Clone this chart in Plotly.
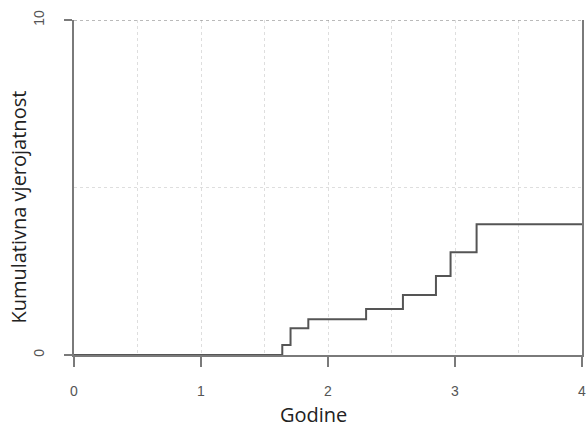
import plotly.graph_objects as go

# Step data (time in years, cumulative probability)
godine = [0, 1.64, 1.705, 1.845, 2.30, 2.59, 2.85, 2.965, 3.17, 4]
kumulativna = [0, 0.030, 0.080, 0.107, 0.137, 0.179, 0.236, 0.307, 0.390, 0.390]

x_tickvals = [0, 1, 2, 3, 4]
x_ticktext = ["0", "1", "2", "3", "4"]
y_tickvals = [0, 1]
y_ticktext = ["0", "10"]

x_title = "Godine"
y_title = "Kumulativna vjerojatnost"

fig = go.Figure()
fig.add_trace(go.Scatter(
    x=godine, y=kumulativna, mode="lines",
    line=dict(shape="hv", color="#555555", width=2),
    showlegend=False, hoverinfo="skip",
))

# dotted reference line at the top (y = 1)
fig.add_shape(type="line", xref="x", yref="y", x0=0, x1=4, y0=1, y1=1,
              line=dict(color="#777777", width=1.2, dash="dot"), layer="above")

grid_col = "#dedede"
tick_font = dict(family="Arial, Liberation Sans, sans-serif", size=14, color="#555555")
title_font = dict(family="Open Sans, sans-serif", size=20, color="#222222")

fig.add_annotation(text=x_title, xref="paper", yref="paper", x=0.472, y=0,
                   yshift=-59, xanchor="center", yanchor="middle",
                   showarrow=False, font=title_font)
fig.add_annotation(text=y_title, xref="paper", yref="paper", x=0, y=0.44,
                   xshift=-55, xanchor="center", yanchor="middle", textangle=-90,
                   showarrow=False, font=title_font)

fig.update_layout(
    width=588, height=430,
    margin=dict(l=74, r=6, t=20, b=75),
    paper_bgcolor="white", plot_bgcolor="white",
    font=dict(family="Open Sans, sans-serif", color="#222222"),
    xaxis=dict(
        range=[0, 4], tickvals=x_tickvals, ticktext=x_ticktext,
        showline=True, linecolor="#7a7a7a", linewidth=2,
        ticks="outside", ticklen=10, tickwidth=2, tickcolor="#7a7a7a",
        ticklabelstandoff=12, automargin=False,
        showgrid=True, gridcolor=grid_col, griddash="dot", gridwidth=1,
        minor=dict(dtick=0.5, showgrid=True, gridcolor=grid_col, griddash="dot"),
        zeroline=False,
        tickfont=tick_font,
    ),
    yaxis=dict(
        range=[0, 1], tickvals=y_tickvals, ticktext=y_ticktext, tickangle=-90,
        showline=True, linecolor="#7a7a7a", linewidth=2, mirror=True,
        ticks="outside", ticklen=8, tickwidth=2, tickcolor="#7a7a7a",
        ticklabelstandoff=14, automargin=False,
        showgrid=False,
        minor=dict(dtick=0.5, showgrid=True, gridcolor=grid_col, griddash="dot"),
        zeroline=False,
        tickfont=tick_font,
    ),
)

fig.write_html("out.html")
